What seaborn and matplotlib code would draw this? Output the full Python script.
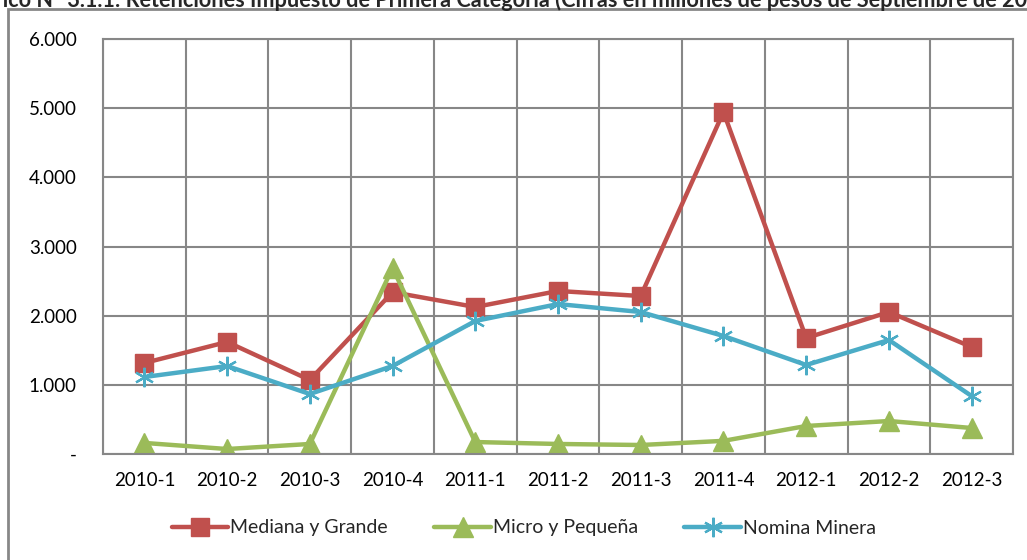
import matplotlib
matplotlib.use("Agg")
import matplotlib.pyplot as plt
import matplotlib.patches as mpatches
from matplotlib.ticker import FuncFormatter, FixedLocator
import seaborn as sns
import pandas as pd

# -------------------------
# datos
# -------------------------
periodos = ["2010-1", "2010-2", "2010-3", "2010-4", "2011-1", "2011-2",
            "2011-3", "2011-4", "2012-1", "2012-2", "2012-3"]
mediana_grande = [1316, 1620, 1070, 2340, 2125, 2357, 2284, 4944, 1677, 2053, 1547]
micro_pequena = [160, 72, 145, 2690, 173, 145, 130, 190, 405, 477, 376]
nomina_minera = [1113, 1272, 867, 1272, 1923, 2168, 2053, 1706, 1287, 1648, 838]

titulo = ("Gráfico N° 3.1.1: Retenciones Impuesto de Primera Categoría "
          "(Cifras en millones de pesos de Septiembre de 2012)")

sns.set_style("white")
plt.rcParams['font.family'] = ['Lato', 'DejaVu Sans']

fig = plt.figure(figsize=(10.27, 5.6), dpi=100)
ax = fig.add_axes([103 / 1027, 106 / 560, 910 / 1027, 415 / 560])

series = [
    ("Mediana y Grande", mediana_grande, "#C0504D", "s", 13.5, 1),
    ("Micro y Pequeña", micro_pequena, "#9BBB59", "^", 14, 1),
    ("Nomina Minera", nomina_minera, "#4BACC6", (6, 2, 0), 14, 1.6),
]
for nombre, valores, color, marcador, tam, mew in series:
    df = pd.DataFrame({"periodo": periodos, "valor": valores})
    sns.lineplot(data=df, x="periodo", y="valor", ax=ax, color=color,
                 linewidth=3.2, marker=marcador, markersize=tam,
                 markeredgecolor=color, markeredgewidth=mew, label=nombre,
                 legend=False)

ax.set_xlim(-0.5, len(periodos) - 0.5)
ax.set_ylim(0, 6000)
ax.set_yticks(range(0, 6001, 1000))
ax.yaxis.set_major_formatter(FuncFormatter(
    lambda v, p: "-" if v == 0 else f"{int(v):,}".replace(",", ".")))
ax.set_xticks(range(len(periodos)))
ax.set_xticklabels(periodos)
ax.xaxis.set_minor_locator(FixedLocator([i - 0.5 for i in range(len(periodos) + 1)]))
ax.set_xlabel("")
ax.set_ylabel("")

gris = "#878787"
ax.grid(False)
for v in range(0, 6001, 1000):
    ax.axhline(v, color=gris, linewidth=1.5, zorder=0)
for b in [i - 0.5 for i in range(len(periodos) + 1)]:
    ax.axvline(b, color=gris, linewidth=1.5, zorder=0)
for s in ax.spines.values():
    s.set_color(gris)
    s.set_linewidth(1.5)

ax.tick_params(axis="x", which="major", length=0, pad=13, labelsize=13.5, labelcolor="black")
ax.tick_params(axis="x", which="minor", length=6, width=1.5, color=gris, direction="out")
ax.tick_params(axis="y", length=7, width=1.5, color=gris, direction="out",
               pad=12, labelsize=13.5, labelcolor="black")

# leyenda
handles, labels = ax.get_legend_handles_labels()
fig.legend(handles, labels, loc="center", bbox_to_anchor=(0.51, 32 / 560), ncol=3,
           frameon=False, fontsize=14, handlelength=2.9, columnspacing=2.4,
           handletextpad=0.1)

# marco exterior y título recortado
fig.patches.append(mpatches.Rectangle((8 / 1027, -0.1), 1.2, (560 - 9) / 560 + 0.1,
                                      transform=fig.transFigure, fill=False,
                                      edgecolor=gris, linewidth=2))
fig.text(-40 / 1027, 553 / 560, titulo, ha="left", va="baseline", fontsize=15.6,
         fontweight="bold")

fig.savefig("out.png", dpi=100)
